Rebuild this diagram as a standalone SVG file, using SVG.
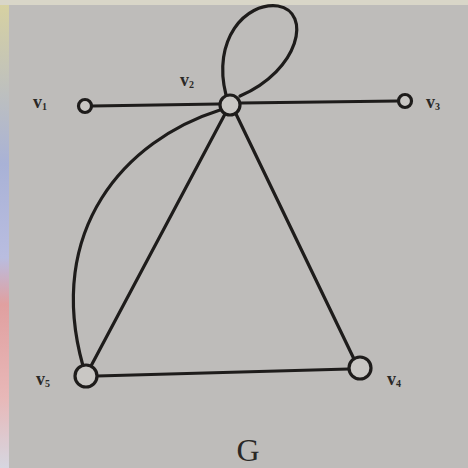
<svg xmlns="http://www.w3.org/2000/svg" width="468" height="468" viewBox="0 0 468 468">
<defs>
<linearGradient id="edge" x1="0" y1="0" x2="0" y2="1">
<stop offset="0" stop-color="#d8d2a0"/>
<stop offset="0.35" stop-color="#a9b2d6"/>
<stop offset="0.55" stop-color="#b9bde0"/>
<stop offset="0.65" stop-color="#e0a0a0"/>
<stop offset="0.85" stop-color="#e8b8b8"/>
<stop offset="1" stop-color="#d6d6e0"/>
</linearGradient>
</defs>
<style>
.e{fill:none;stroke:#1e1c1b;stroke-width:3.2;stroke-linecap:round}
.n{fill:#c9c7c4;stroke:#1e1c1b;stroke-width:3.2}
.l{font-family:"Liberation Serif",serif;font-weight:bold;fill:#2a2826}
.s{font-size:10px}
</style>
<rect width="468" height="468" fill="#bebcba"/>
<rect x="0" y="0" width="9" height="468" fill="url(#edge)"/>
<rect x="0" y="0" width="468" height="5" fill="#d9d6c8"/>
<g id="connectors">
<path class="e" d="M92,106 L219,104"/>
<path class="e" d="M241,103 L398,101"/>
<path class="e" d="M226,95 C212,40 245,2 278,6 C312,12 300,70 240,96"/>
<path class="e" d="M220,110 C125,140 45,230 83,366"/>
<path class="e" d="M225,114 L91,366"/>
<path class="e" d="M236,114 L354,359"/>
<path class="e" d="M97,376 L349,369"/>
</g>
<g id="v1"><circle class="n" cx="85" cy="106" r="6.5"/><text class="l" x="33" y="108" font-size="18">v<tspan class="s" dy="2">1</tspan></text></g>
<g id="v2"><circle class="n" cx="230" cy="105" r="10"/><text class="l" x="180" y="86" font-size="18">v<tspan class="s" dy="2">2</tspan></text></g>
<g id="v3"><circle class="n" cx="405" cy="101" r="6.5"/><text class="l" x="426" y="108" font-size="18">v<tspan class="s" dy="2">3</tspan></text></g>
<g id="v4"><circle class="n" cx="360" cy="368" r="11"/><text class="l" x="387" y="385" font-size="18">v<tspan class="s" dy="2">4</tspan></text></g>
<g id="v5"><circle class="n" cx="86" cy="376" r="11"/><text class="l" x="36" y="385" font-size="18">v<tspan class="s" dy="2">5</tspan></text></g>
<text x="248" y="461" font-family="Liberation Serif,serif" font-size="32" fill="#2a2826" text-anchor="middle">G</text>
</svg>
